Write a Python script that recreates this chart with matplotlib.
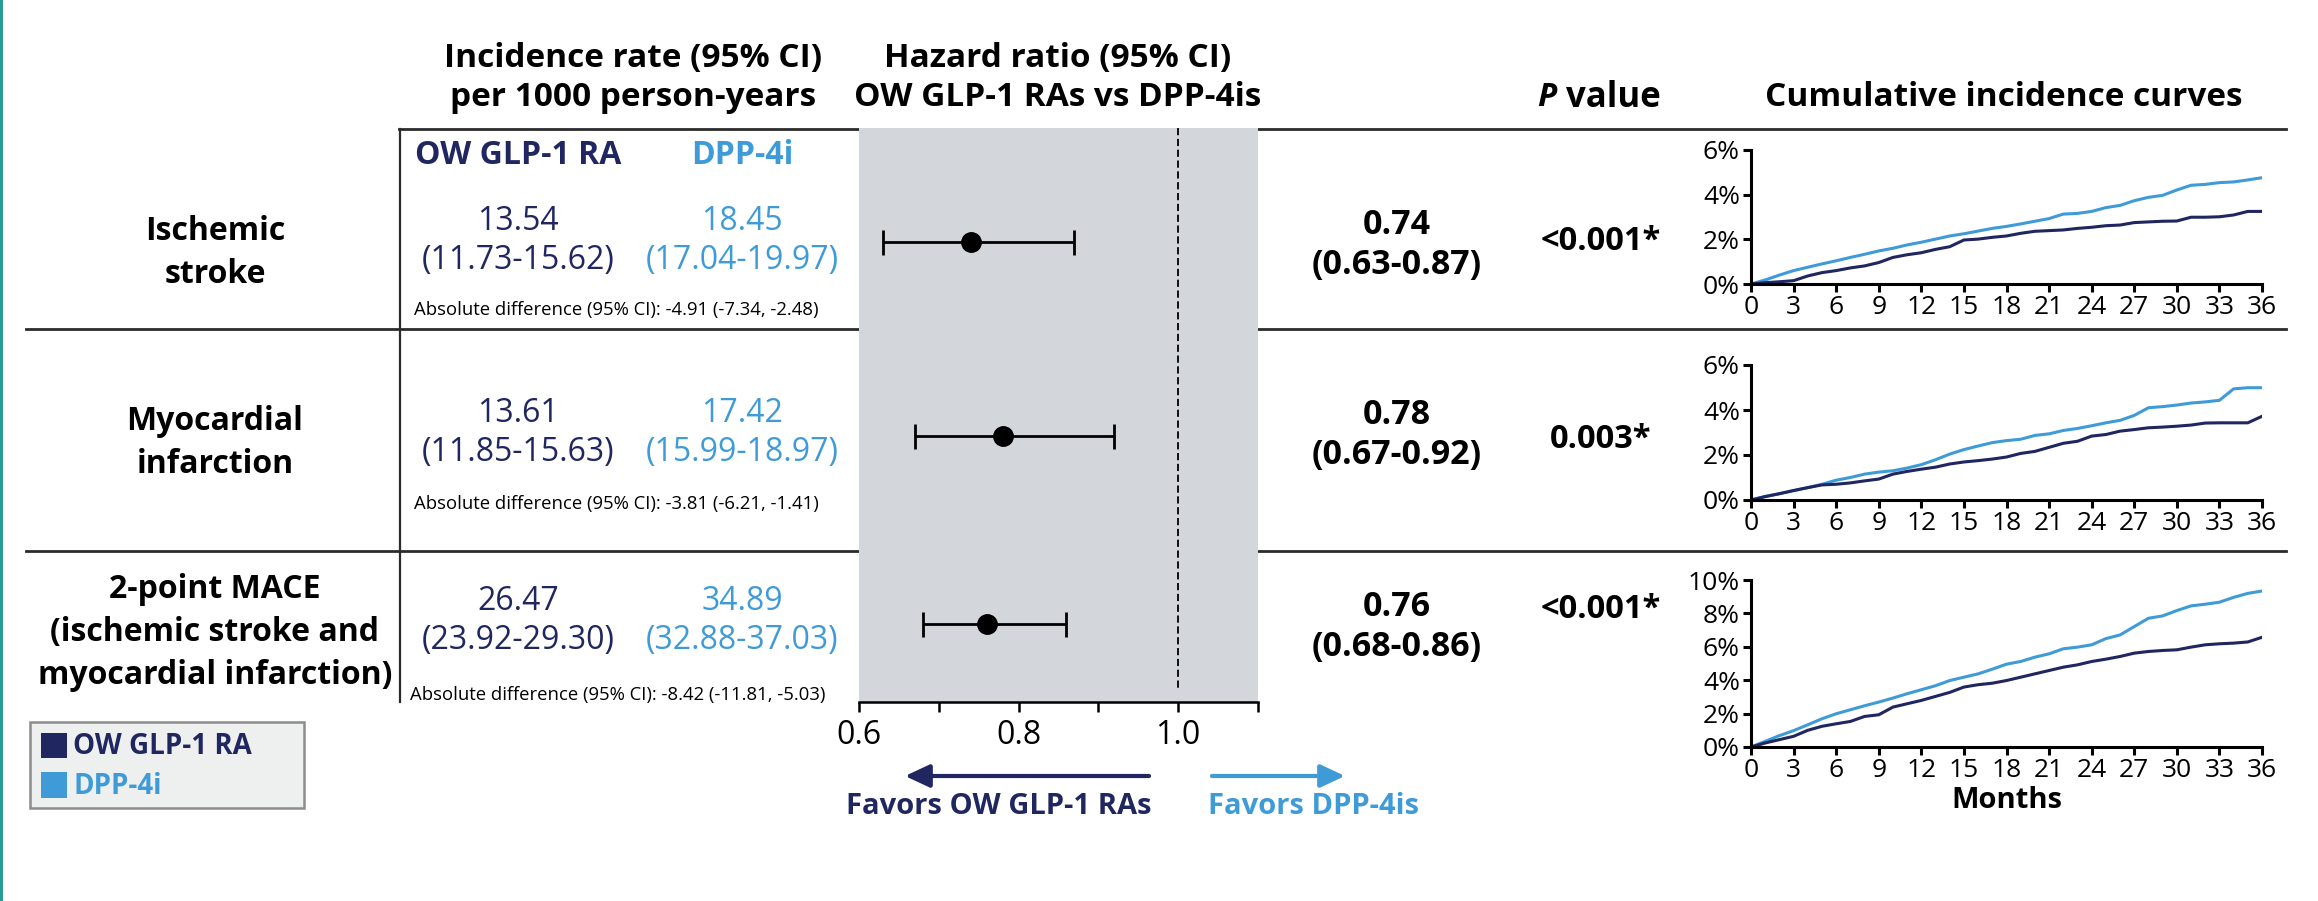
import matplotlib
matplotlib.use('Agg')
import matplotlib.pyplot as plt
from matplotlib.patches import Rectangle
from matplotlib import font_manager as fm


def _w(v):
    if isinstance(v, str):
        return fm.weight_dict.get(v, 400)
    return v


def pick_family(cands):
    for fam in cands:
        ws = [_w(f.weight) for f in fm.fontManager.ttflist if f.name == fam]
        if ws and max(ws) >= 600:
            return fam
    return 'DejaVu Sans'


FAM = pick_family(['Noto Sans', 'Open Sans', 'Lato', 'Roboto', 'Liberation Sans'])
plt.rcParams['font.family'] = [FAM, 'DejaVu Sans']

W, H = 2318, 901
DPI = 100

NAVY = '#1f2660'
LBLUE = '#3f9bd8'
GRAY = '#d3d6db'
TEAL = '#2a9a95'
LINE = '#2b2b2b'

# ---------------- data ----------------
outcomes = ['Ischemic\nstroke', 'Myocardial\ninfarction',
            '2-point MACE\n(ischemic stroke and\nmyocardial infarction)']
glp_rate = ['13.54', '13.61', '26.47']
glp_ci = ['(11.73-15.62)', '(11.85-15.63)', '(23.92-29.30)']
dpp_rate = ['18.45', '17.42', '34.89']
dpp_ci = ['(17.04-19.97)', '(15.99-18.97)', '(32.88-37.03)']
abs_diff = ['-4.91 (-7.34, -2.48)', '-3.81 (-6.21, -1.41)', '-8.42 (-11.81, -5.03)']
hr = [0.74, 0.78, 0.76]
hr_lo = [0.63, 0.67, 0.68]
hr_hi = [0.87, 0.92, 0.86]
hr_text = ['0.74\n(0.63-0.87)', '0.78\n(0.67-0.92)', '0.76\n(0.68-0.86)']
p_values = ['<0.001*', '0.003*', '<0.001*']
hr_ticks = [0.6, 0.7, 0.8, 0.9, 1.0, 1.1]
hr_ticklabels = ['0.6', '', '0.8', '', '1.0', '']

months = list(range(37))
month_ticks = list(range(0, 37, 3))

stroke_dpp = [0, 0.18, 0.40, 0.60, 0.75, 0.90, 1.04, 1.19, 1.33, 1.48, 1.60, 1.75, 1.87,
              2.01, 2.15, 2.25, 2.37, 2.49, 2.58, 2.69, 2.81, 2.93, 3.13, 3.16, 3.25,
              3.42, 3.52, 3.73, 3.88, 3.97, 4.21, 4.42, 4.46, 4.54, 4.57, 4.66, 4.76]
stroke_glp = [0, 0.06, 0.10, 0.15, 0.36, 0.51, 0.60, 0.72, 0.81, 0.96, 1.19, 1.31, 1.40,
              1.55, 1.67, 1.97, 2.01, 2.09, 2.15, 2.27, 2.36, 2.39, 2.42, 2.49, 2.54,
              2.61, 2.64, 2.75, 2.78, 2.81, 2.82, 2.99, 2.99, 3.01, 3.09, 3.25, 3.25]
mi_dpp = [0, 0.16, 0.28, 0.42, 0.55, 0.70, 0.88, 1.00, 1.15, 1.24, 1.30, 1.42, 1.57,
          1.79, 2.04, 2.24, 2.40, 2.55, 2.64, 2.70, 2.87, 2.94, 3.09, 3.18, 3.30,
          3.43, 3.54, 3.76, 4.10, 4.15, 4.22, 4.31, 4.36, 4.43, 4.94, 4.99, 4.99]
mi_glp = [0, 0.15, 0.28, 0.42, 0.55, 0.67, 0.70, 0.76, 0.85, 0.93, 1.15, 1.27, 1.37,
          1.46, 1.60, 1.69, 1.75, 1.82, 1.91, 2.07, 2.16, 2.34, 2.52, 2.61, 2.84,
          2.91, 3.06, 3.13, 3.21, 3.24, 3.28, 3.33, 3.42, 3.43, 3.43, 3.43, 3.72]
mace_dpp = [0, 0.34, 0.68, 0.98, 1.33, 1.69, 1.99, 2.23, 2.47, 2.69, 2.93, 3.19, 3.43,
            3.67, 3.98, 4.18, 4.38, 4.66, 4.96, 5.12, 5.38, 5.58, 5.88, 5.98, 6.12,
            6.49, 6.71, 7.21, 7.71, 7.85, 8.17, 8.45, 8.55, 8.67, 8.96, 9.20, 9.34]
mace_glp = [0, 0.24, 0.44, 0.64, 1.00, 1.24, 1.39, 1.53, 1.83, 1.93, 2.39, 2.59, 2.79,
            3.03, 3.27, 3.59, 3.73, 3.82, 3.98, 4.18, 4.38, 4.58, 4.78, 4.92, 5.12,
            5.26, 5.42, 5.62, 5.72, 5.78, 5.82, 5.98, 6.12, 6.18, 6.22, 6.29, 6.57]

km_glp = [stroke_glp, mi_glp, mace_glp]
km_dpp = [stroke_dpp, mi_dpp, mace_dpp]
km_ymax = [6, 6, 10]
km_yticks = [[0, 2, 4, 6], [0, 2, 4, 6], [0, 2, 4, 6, 8, 10]]

# ---------------- layout (pixels) ----------------
row_label_y = [253, 443, 633]
rate_y = [222, 414, 602]
ci_y = [260, 452, 640]
abs_y = [310, 504, 695]
abs_x = [414, 414, 410]
hr_y = [245, 435, 627]
p_y = [241, 439, 609]
forest_row_y = [242, 436, 624]
km_boxes = [(150, 284), (365, 500), (580, 747)]
KM_L, KM_R = 1751, 2262
FOR_L, FOR_R, FOR_T, FOR_B = 859, 1258, 128, 702


def rect(l, t, r, b):
    return [l / W, 1 - b / H, (r - l) / W, (b - t) / H]


fig = plt.figure(figsize=(W / DPI, H / DPI), dpi=DPI)
fig.patch.set_facecolor('white')

# overlay axes in pixel coordinates
ov = fig.add_axes([0, 0, 1, 1])
ov.set_xlim(0, W)
ov.set_ylim(H, 0)
ov.axis('off')
ov.set_zorder(0)

# teal left border
ov.add_patch(Rectangle((0, 0), 3, H, color=TEAL, lw=0))

# table lines
ov.plot([399, 2286], [129, 129], color=LINE, lw=2)
ov.plot([26, 2286], [329, 329], color=LINE, lw=2)
ov.plot([26, 2286], [551, 551], color=LINE, lw=2)
ov.plot([400, 400], [129, 702], color=LINE, lw=1.6)

FS_HEAD = 24
FS_ROW = 23
FS_VAL = 23
FS_HR = 24.5
FS_P = 23.5

# headers
ov.text(633, 58, 'Incidence rate (95% CI)', ha='center', va='center', fontsize=FS_HEAD, fontweight='bold')
ov.text(633, 98, 'per 1000 person-years', ha='center', va='center', fontsize=FS_HEAD, fontweight='bold')
ov.text(1058, 58, 'Hazard ratio (95% CI)', ha='center', va='center', fontsize=FS_HEAD, fontweight='bold')
ov.text(1058, 98, 'OW GLP-1 RAs vs DPP-4is', ha='center', va='center', fontsize=FS_HEAD, fontweight='bold')
ov.text(1557, 98, 'P', ha='right', va='center', fontsize=FS_HEAD, fontweight='bold', fontstyle='italic')
ov.text(1566, 98, 'value', ha='left', va='center', fontsize=FS_HEAD + 1, fontweight='bold')
ov.text(2004, 98, 'Cumulative incidence curves', ha='center', va='center', fontsize=FS_HEAD, fontweight='bold')

ov.text(518, 155, 'OW GLP-1 RA', ha='center', va='center', fontsize=FS_VAL, fontweight='bold', color=NAVY)
ov.text(742, 155, 'DPP-4i', ha='center', va='center', fontsize=FS_VAL, fontweight='bold', color=LBLUE)

for i in range(3):
    ov.text(215, row_label_y[i], outcomes[i], ha='center', va='center', fontsize=FS_ROW,
            fontweight='bold', linespacing=1.4)
    ov.text(518, rate_y[i], glp_rate[i], ha='center', va='center', fontsize=FS_VAL, color=NAVY)
    ov.text(518, ci_y[i], glp_ci[i], ha='center', va='center', fontsize=FS_VAL, color=NAVY)
    ov.text(742, rate_y[i], dpp_rate[i], ha='center', va='center', fontsize=FS_VAL, color=LBLUE)
    ov.text(742, ci_y[i], dpp_ci[i], ha='center', va='center', fontsize=FS_VAL, color=LBLUE)
    ov.text(abs_x[i], abs_y[i], 'Absolute difference (95% CI): ' + abs_diff[i], ha='left',
            va='center', fontsize=13.3)
    ov.text(1397, hr_y[i], hr_text[i], ha='center', va='center', fontsize=FS_HR,
            fontweight='bold', linespacing=1.22)
    ov.text(1601, p_y[i], p_values[i], ha='center', va='center', fontsize=FS_P, fontweight='bold')

# legend box
ov.add_patch(Rectangle((30, 722), 274, 86, fc='#eef0f0', ec='#8c8c8c', lw=1.8))
ov.add_patch(Rectangle((41, 733), 26, 25, color=NAVY, lw=0))
ov.add_patch(Rectangle((41, 772), 26, 26, color=LBLUE, lw=0))
ov.text(73, 747, 'OW GLP-1 RA', ha='left', va='center', fontsize=20, fontweight='bold', color=NAVY)
ov.text(73, 786, 'DPP-4i', ha='left', va='center', fontsize=20, fontweight='bold', color=LBLUE)

# favors arrows
ov.annotate('', xy=(905, 776), xytext=(1149, 776),
            arrowprops=dict(arrowstyle='-|>,head_length=0.75,head_width=0.35', lw=3,
                            color=NAVY, shrinkA=0, shrinkB=0, mutation_scale=20))
ov.annotate('', xy=(1345, 776), xytext=(1212, 776),
            arrowprops=dict(arrowstyle='-|>,head_length=0.75,head_width=0.35', lw=3,
                            color=LBLUE, shrinkA=0, shrinkB=0, mutation_scale=20))
ov.text(999, 806, 'Favors OW GLP-1 RAs', ha='center', va='center', fontsize=21,
        fontweight='bold', color=NAVY)
ov.text(1313, 806, 'Favors DPP-4is', ha='center', va='center', fontsize=21,
        fontweight='bold', color=LBLUE)

# ---------------- forest plot ----------------
fx = fig.add_axes(rect(FOR_L, FOR_T, FOR_R, FOR_B))
fx.set_facecolor(GRAY)
fx.set_xlim(0.6, 1.1)
fx.set_ylim(FOR_B, FOR_T)
for s in ['top', 'left', 'right']:
    fx.spines[s].set_visible(False)
fx.spines['bottom'].set_linewidth(1.8)
fx.set_yticks([])
fx.set_xticks(hr_ticks)
fx.set_xticklabels(hr_ticklabels)
fx.tick_params(axis='x', direction='out', length=7, width=1.8, labelsize=23, pad=5)
fx.plot([1.0, 1.0], [FOR_T, 688], color='black', lw=1.3, ls=(0, (4, 2)))
for i in range(3):
    fx.errorbar(hr[i], forest_row_y[i], xerr=[[hr[i] - hr_lo[i]], [hr_hi[i] - hr[i]]],
                fmt='o', color='black', ms=14, lw=2, capsize=9, capthick=2)

# ---------------- cumulative incidence ----------------
for i in range(3):
    t, b = km_boxes[i]
    ax = fig.add_axes(rect(KM_L, t, KM_R, b))
    ax.plot(months, km_dpp[i], color=LBLUE, lw=2.2)
    ax.plot(months, km_glp[i], color=NAVY, lw=2.2)
    ax.set_xlim(0, 36)
    ax.set_ylim(0, km_ymax[i])
    ax.set_xticks(month_ticks)
    ax.set_yticks(km_yticks[i])
    ax.set_yticklabels([f'{v}%' for v in km_yticks[i]])
    for s in ['top', 'right']:
        ax.spines[s].set_visible(False)
    for s in ['left', 'bottom']:
        ax.spines[s].set_linewidth(2.2)
    ax.tick_params(direction='out', length=6, width=2.2, labelsize=19, pad=2)
    ax.patch.set_alpha(0)
    if i == 2:
        ax.set_xlabel('Months', fontsize=21, fontweight='bold', labelpad=2)

fig.savefig('out.png', dpi=DPI)
